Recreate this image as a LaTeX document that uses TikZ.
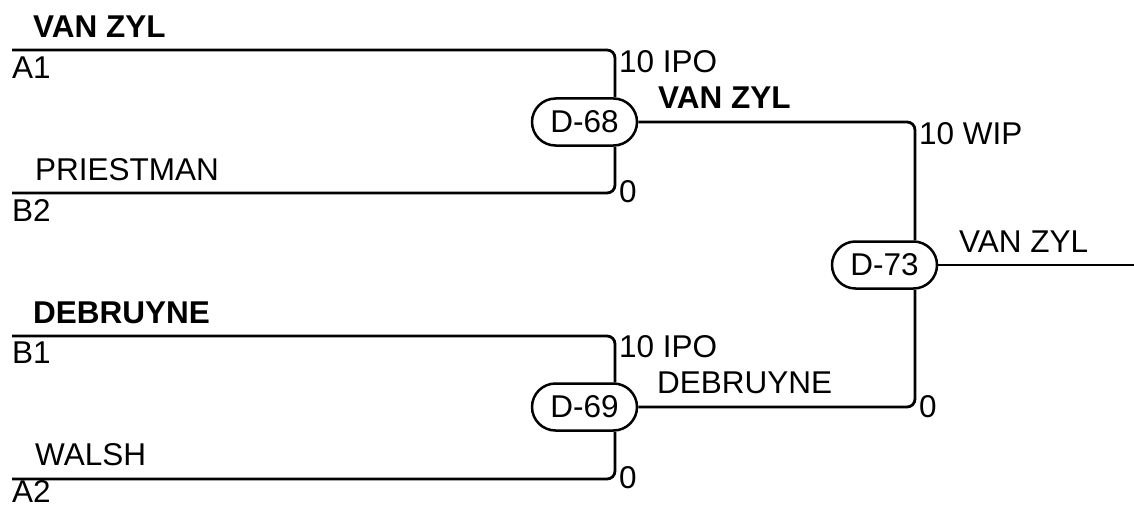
\documentclass[tikz,border=0pt]{standalone}
\usepackage{fontspec}
\setmainfont{Liberation Sans}
\usetikzlibrary{shapes.misc}
\tikzset{
  wire/.style={line width=2.8pt, rounded corners=8pt},
  game/.style={draw, line width=2.5pt, rounded rectangle, minimum width=105pt, minimum height=47pt, inner sep=0pt, font=\fontsize{31.5}{36}\selectfont},
  lbl/.style={anchor=base west, inner sep=0pt, font=\fontsize{31.5}{36}\selectfont},
  blbl/.style={lbl, font=\fontsize{31.5}{36}\selectfont\bfseries},
}
\begin{document}
\begin{tikzpicture}[x=1pt,y=-1pt]
\useasboundingbox (0,0) rectangle (1134,508);
% games
\node[game] (d68) at (584.5,122) {D-68};
\node[game] (d69) at (584.5,407) {D-69};
\node[game] (d73) at (884.5,265) {D-73};
% free ends
\coordinate (a1) at (12,50);
\coordinate (b2) at (12,193);
\coordinate (b1) at (12,336);
\coordinate (a2) at (12,479);
\coordinate (out) at (1134,265);
% connectors
\draw[wire] (a1) -| ([xshift=30.5pt]d68.north);
\draw[wire] (b2) -| ([xshift=30.5pt]d68.south);
\draw[wire] (b1) -| ([xshift=30.5pt]d69.north);
\draw[wire] (a2) -| ([xshift=30.5pt]d69.south);
\draw[wire] (d68.east) -| ([xshift=30.5pt]d73.north);
\draw[wire] (d69.east) -| ([xshift=30.5pt]d73.south);
\draw[wire] (d73.east) -- (out);
% labels
\node[blbl] (t1) at (33,38) {VAN ZYL};
\node[lbl] (t2) at (12,79) {A1};
\node[lbl] (t3) at (35,180) {PRIESTMAN};
\node[lbl] (t4) at (12,221) {B2};
\node[blbl] (t5) at (33,323) {DEBRUYNE};
\node[lbl] (t6) at (12,363) {B1};
\node[lbl] (t7) at (35,465) {WALSH};
\node[lbl] (t8) at (12,502) {A2};
\node[lbl] (s1) at (619,73) {10 IPO};
\node[lbl] (s2) at (619,202) {0};
\node[lbl] (s3) at (619,357) {10 IPO};
\node[lbl] (s4) at (619,488) {0};
\node[blbl] (w1) at (658,109) {VAN ZYL};
\node[lbl] (w2) at (657,393) {DEBRUYNE};
\node[lbl] (s5) at (919,144) {10 WIP};
\node[lbl] (s6) at (919,417) {0};
\node[lbl] (w3) at (959,252) {VAN ZYL};
\end{tikzpicture}
\end{document}
